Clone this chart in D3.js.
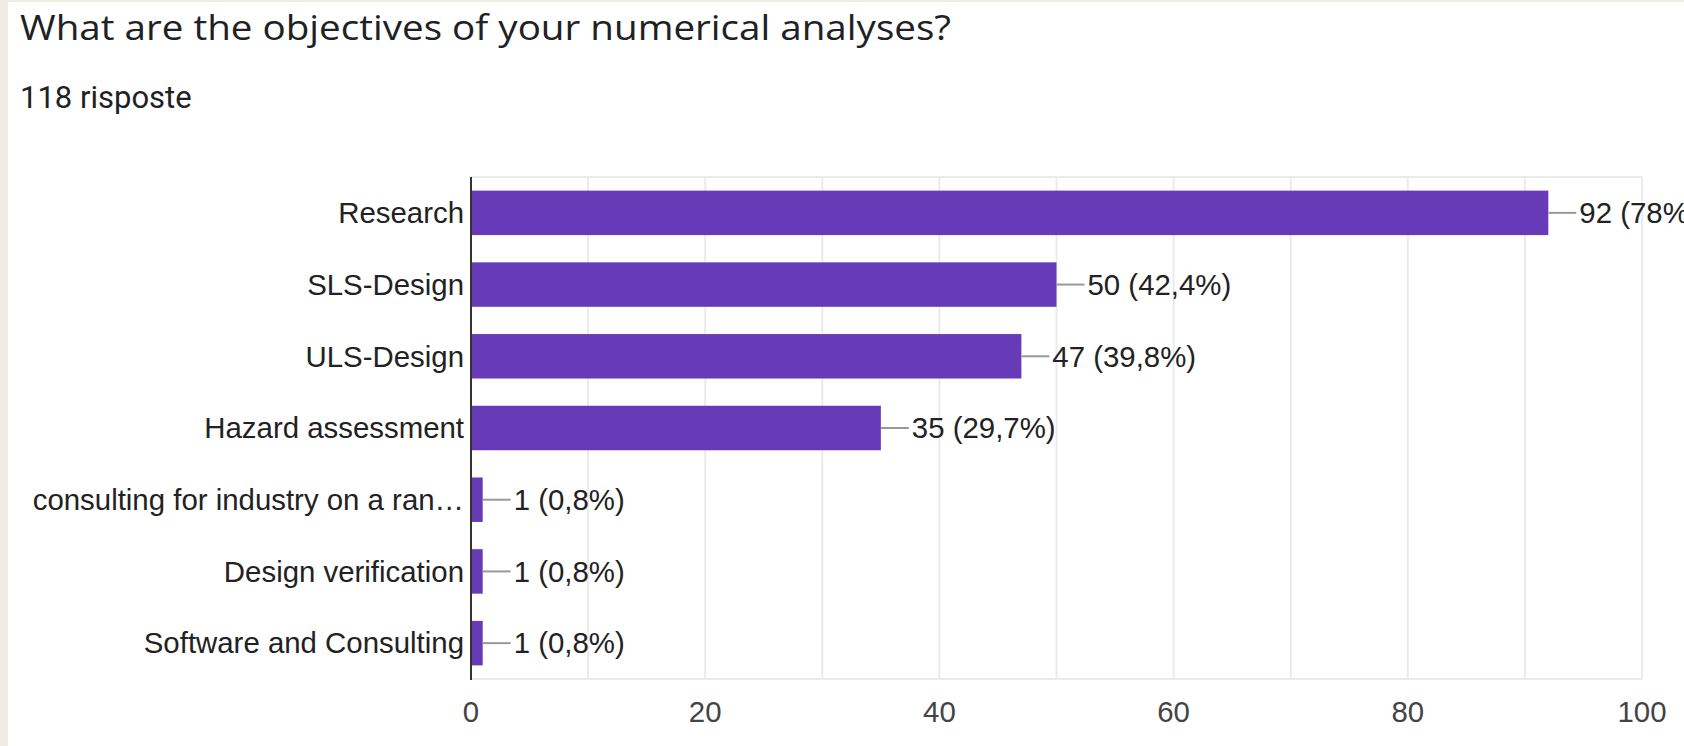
<!DOCTYPE html>
<html>
<head>
<meta charset="utf-8">
<script src="https://cdn.jsdelivr.net/npm/d3@7"></script>
<style>
  html, body { margin: 0; padding: 0; background: #efece4; overflow: hidden; }
  svg { display: block; }
</style>
</head>
<body>
<svg id="chart" width="1684" height="746"></svg>
<script>
// Survey answers: objectives of numerical analyses
const title = "What are the objectives of your numerical analyses?";
const totalResponses = 118;
const subtitle = totalResponses + " risposte";
const categories = [
  "Research",
  "SLS-Design",
  "ULS-Design",
  "Hazard assessment",
  "consulting for industry on a ran\u2026",
  "Design verification",
  "Software and Consulting"
];
const counts = [92, 50, 47, 35, 1, 1, 1];
const xTicks = [0, 20, 40, 60, 80, 100];
const xGrid = [10, 20, 30, 40, 50, 60, 70, 80, 90, 100];

const W = 1684, H = 746;
const plot = { left: 471, right: 1642, top: 177, bottom: 679 };

const svg = d3.select("#chart");

// white card over the beige page
svg.append("rect")
  .attr("x", 8).attr("y", 2)
  .attr("width", W - 8).attr("height", H - 2)
  .attr("fill", "#ffffff");

svg.append("text")
  .attr("x", 20).attr("y", 40)
  .attr("font-family", "'Open Sans', Roboto, sans-serif")
  .attr("font-size", 34)
  .attr("textLength", 931)
  .attr("lengthAdjust", "spacingAndGlyphs")
  .attr("fill", "#202124")
  .text(title);

svg.append("text")
  .attr("x", 20).attr("y", 108)
  .attr("font-family", "Roboto, sans-serif")
  .attr("font-size", 31)
  .attr("fill", "#202124")
  .text(subtitle);

const x = d3.scaleLinear().domain([0, 100]).range([plot.left, plot.right]);
const y = d3.scaleBand().domain(categories).range([plot.top, plot.bottom])
  .paddingInner(0.38).paddingOuter(0.19);

// grid
const g = svg.append("g");
g.selectAll("line.v").data(xGrid).enter().append("line")
  .attr("x1", d => x(d)).attr("x2", d => x(d))
  .attr("y1", plot.top).attr("y2", plot.bottom)
  .attr("stroke", "#ebebeb").attr("stroke-width", 2);
g.append("line")
  .attr("x1", plot.left).attr("x2", plot.right)
  .attr("y1", plot.top).attr("y2", plot.top)
  .attr("stroke", "#ebebeb").attr("stroke-width", 2);
g.append("line")
  .attr("x1", plot.left).attr("x2", plot.right)
  .attr("y1", plot.bottom).attr("y2", plot.bottom)
  .attr("stroke", "#ebebeb").attr("stroke-width", 2);

// bars
svg.selectAll("rect.bar").data(counts).enter().append("rect")
  .attr("class", "bar")
  .attr("x", x(0))
  .attr("y", (d, i) => y(categories[i]))
  .attr("width", d => x(d) - x(0))
  .attr("height", y.bandwidth())
  .attr("fill", "#673ab7");

// axis line at zero
svg.append("line")
  .attr("x1", x(0)).attr("x2", x(0))
  .attr("y1", plot.top).attr("y2", plot.bottom + 1)
  .attr("stroke", "#333333").attr("stroke-width", 2);

// category labels
svg.selectAll("text.cat").data(categories).enter().append("text")
  .attr("x", plot.left - 7)
  .attr("y", d => y(d) + y.bandwidth() / 2)
  .attr("dy", "0.35em")
  .attr("text-anchor", "end")
  .attr("font-family", "'Liberation Sans', Arial, sans-serif")
  .attr("font-size", 29.4)
  .attr("fill", "#222222")
  .text(d => d);

// value labels with leader lines
const fmtPct = v => {
  const p = Math.round(v / totalResponses * 1000) / 10;
  return (p % 1 === 0 ? p.toFixed(0) : p.toFixed(1)).replace(".", ",");
};
counts.forEach((v, i) => {
  const cy = y(categories[i]) + y.bandwidth() / 2;
  svg.append("line")
    .attr("x1", x(v)).attr("x2", x(v) + 28)
    .attr("y1", cy).attr("y2", cy)
    .attr("stroke", "#999999").attr("stroke-width", 2);
  svg.append("text")
    .attr("x", x(v) + 31)
    .attr("y", cy)
    .attr("dy", "0.35em")
    .attr("font-family", "'Liberation Sans', Arial, sans-serif")
    .attr("font-size", 29.4)
    .attr("fill", "#222222")
    .text(v + " (" + fmtPct(v) + "%)");
});

// x tick labels
svg.selectAll("text.tick").data(xTicks).enter().append("text")
  .attr("x", d => x(d))
  .attr("y", 722)
  .attr("text-anchor", "middle")
  .attr("font-family", "'Liberation Sans', Arial, sans-serif")
  .attr("font-size", 29.4)
  .attr("fill", "#444444")
  .text(d => d);
</script>
</body>
</html>
